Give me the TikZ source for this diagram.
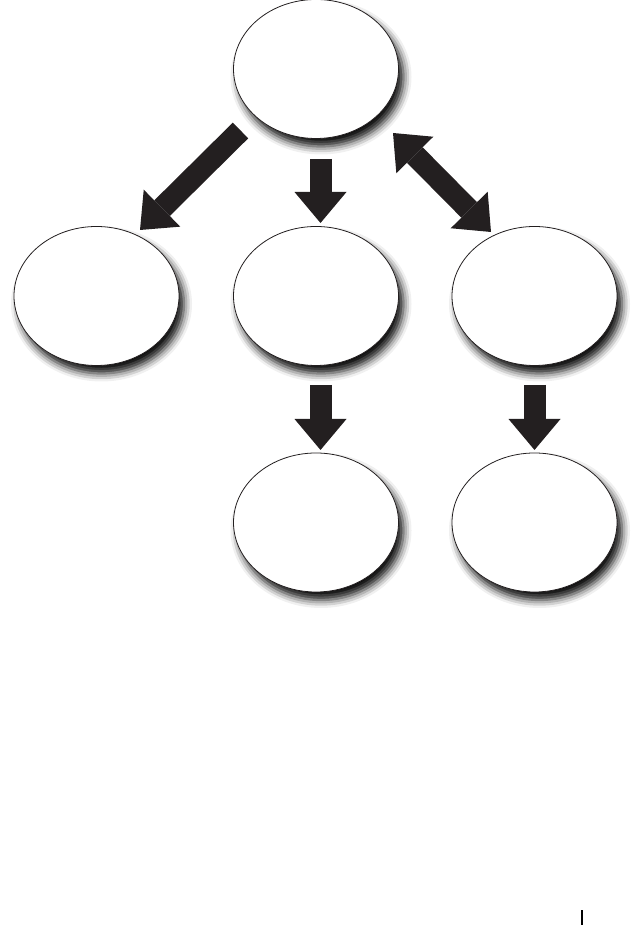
\documentclass[tikz,border=0pt]{standalone}
\usepackage{tikz}
\usetikzlibrary{arrows.meta, shadows.blur, shapes.geometric}
\definecolor{ink}{RGB}{35,31,32}

\begin{document}
\begin{tikzpicture}[x=1pt, y=1pt,
    bubble/.style={ellipse, draw=ink, line width=0.8pt, fill=white,
        minimum width=165pt, minimum height=139pt, inner sep=0pt,
        blur shadow={shadow xshift=5pt, shadow yshift=-8pt, shadow blur radius=8pt, shadow opacity=95}},
    fat/.style={draw=ink, line width=22pt, -{Triangle[width=52pt, length=31pt, line width=0pt]}},
    fatboth/.style={draw=ink, line width=22pt,
        {Triangle[width=52pt, length=31pt, line width=0pt]}-{Triangle[width=52pt, length=31pt, line width=0pt]}}]
    \useasboundingbox (0,0) rectangle (641,925);

    % Top
    \node[bubble] (top) at (316,856) {};

    % Middle row
    \node[bubble] (left) at (96.5,629) {};
    \node[bubble] (mid) at (316,629) {};
    \node[bubble] (right) at (534.5,629) {};

    % Bottom row
    \node[bubble] (botmid) at (316,402.5) {};
    \node[bubble] (botright) at (534.5,402.5) {};

    % Arrows from the top
    \draw[fat] ([shift={(-75.5,-61.5)}]top.center) -- ([shift={(43.5,66)}]left.center);
    \draw[fat] ([shift={(4.5,-90)}]top.center) -- ([shift={(4.5,73)}]mid.center);
    \draw[fatboth] ([shift={(77,-64)}]top.center) -- ([shift={(-43.5,64)}]right.center);

    % Arrows to the bottom
    \draw[fat] ([shift={(4.5,-89)}]mid.center) -- ([shift={(4.5,72.5)}]botmid.center);
    \draw[fat] ([shift={(0,-89)}]right.center) -- ([shift={(0,72.5)}]botright.center);

    % Page mark
    \draw[line width=1.5pt] (582,0) -- (582,15);
\end{tikzpicture}
\end{document}
